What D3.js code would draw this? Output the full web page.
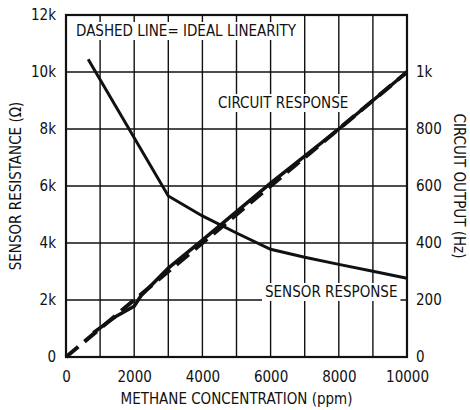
<!DOCTYPE html>
<html><head><meta charset="utf-8">
<script src="https://cdn.jsdelivr.net/npm/d3@7"></script>
<style>
body{margin:0;background:#fff;}
text{font-family:"Liberation Sans Narrow","DejaVu Sans Condensed","Liberation Sans",sans-serif;fill:#111;}
</style></head><body>
<script>
const xTicks = [0,2000,4000,6000,8000,10000];
const leftTicks = [0,2000,4000,6000,8000,10000,12000];
const leftTickLabels = ["0","2k","4k","6k","8k","10k","12k"];
const rightTicks = [0,200,400,600,800,1000];
const rightTickLabels = ["0","200","400","600","800","1k"];
const sensorPpm = [650,3000,4000,5000,6000,7000,8000,9000,10000];
const sensorOhm = [10450,5650,4950,4350,3780,3500,3250,3010,2760];
const circuitPpm = [800,1500,2000,2200,3000,4000,5000,6000,7000,8000,9000,10000];
const circuitHz = [85,145,178,215,312,410,510,610,705,800,900,1000];
const idealPpm = [0,10000];
const idealHz = [0,1000];

const W=470,H=410, L=66, R=407, T=15, B=357;
const svg=d3.select("body").append("svg").attr("width",W).attr("height",H);
const x=d3.scaleLinear().domain([0,10000]).range([L,R]);
const yL=d3.scaleLinear().domain([0,12000]).range([B,T]);
const yR=d3.scaleLinear().domain([0,1200]).range([B,T]);

const g=svg.append("g");
g.selectAll(".vg").data(d3.range(1000,10000,1000)).join("line")
 .attr("x1",d=>x(d)).attr("x2",d=>x(d)).attr("y1",T).attr("y2",B)
 .attr("stroke","#111").attr("stroke-width",1.4);
g.selectAll(".hg").data(d3.range(2000,12000,2000)).join("line")
 .attr("x1",L).attr("x2",R).attr("y1",d=>yL(d)).attr("y2",d=>yL(d))
 .attr("stroke","#111").attr("stroke-width",1.4);

const fs=15;
const ax=d3.axisBottom(x).tickValues(xTicks).tickSize(0).tickPadding(14).tickFormat(d3.format("d"));
svg.append("g").attr("transform",`translate(0,${B})`).call(ax)
 .call(s=>{s.select(".domain").remove();s.selectAll("text").attr("font-size",fs).style("font-family",null);});
const ayl=d3.axisLeft(yL).tickValues(leftTicks).tickSize(0).tickPadding(10).tickFormat((d,i)=>leftTickLabels[i]);
svg.append("g").attr("transform",`translate(${L},0)`).call(ayl)
 .call(s=>{s.select(".domain").remove();s.selectAll("text").attr("font-size",fs).style("font-family",null);});
const ayr=d3.axisRight(yR).tickValues(rightTicks).tickSize(0).tickPadding(9).tickFormat((d,i)=>rightTickLabels[i]);
svg.append("g").attr("transform",`translate(${R},0)`).call(ayr)
 .call(s=>{s.select(".domain").remove();s.selectAll("text").attr("font-size",fs).style("font-family",null);});

svg.append("rect").attr("x",L).attr("y",T).attr("width",R-L).attr("height",B-T)
 .attr("fill","none").attr("stroke","#111").attr("stroke-width",2.2);

function label(txt,xx,yy,anchor){
  const t=svg.append("text").attr("x",xx).attr("y",yy).attr("font-size",fs).attr("text-anchor",anchor||"start").text(txt);
  const bb=t.node().getBBox();
  svg.insert("rect",()=>t.node()).attr("x",bb.x-3).attr("y",bb.y).attr("width",bb.width+6).attr("height",bb.height).attr("fill","#fff");
  return t;
}
label("DASHED LINE= IDEAL LINEARITY",76,36);
label("CIRCUIT RESPONSE",218,108);
label("SENSOR RESPONSE",265,297);

const lineL=d3.line().x(d=>x(d[0])).y(d=>yL(d[1]));
const lineR=d3.line().x(d=>x(d[0])).y(d=>yR(d[1]));
svg.append("path").datum(idealPpm.map((p,i)=>[p,idealHz[i]])).attr("d",lineR)
 .attr("fill","none").attr("stroke","#111").attr("stroke-width",4).attr("stroke-dasharray","16,8");
svg.append("path").datum(circuitPpm.map((p,i)=>[p,circuitHz[i]])).attr("d",lineR)
 .attr("fill","none").attr("stroke","#111").attr("stroke-width",3.5);
svg.append("path").datum(sensorPpm.map((p,i)=>[p,sensorOhm[i]])).attr("d",lineL)
 .attr("fill","none").attr("stroke","#111").attr("stroke-width",3);

svg.append("text").attr("x",(L+R)/2).attr("y",404).attr("text-anchor","middle").attr("font-size",fs).text("METHANE CONCENTRATION (ppm)");
svg.append("text").attr("transform",`translate(21,${(T+B)/2}) rotate(-90)`).attr("text-anchor","middle").attr("font-size",fs).text("SENSOR RESISTANCE (Ω)");
svg.append("text").attr("transform",`translate(454,186) rotate(90)`).attr("text-anchor","middle").attr("font-size",fs).text("CIRCUIT OUTPUT (Hz)");
</script></body></html>
